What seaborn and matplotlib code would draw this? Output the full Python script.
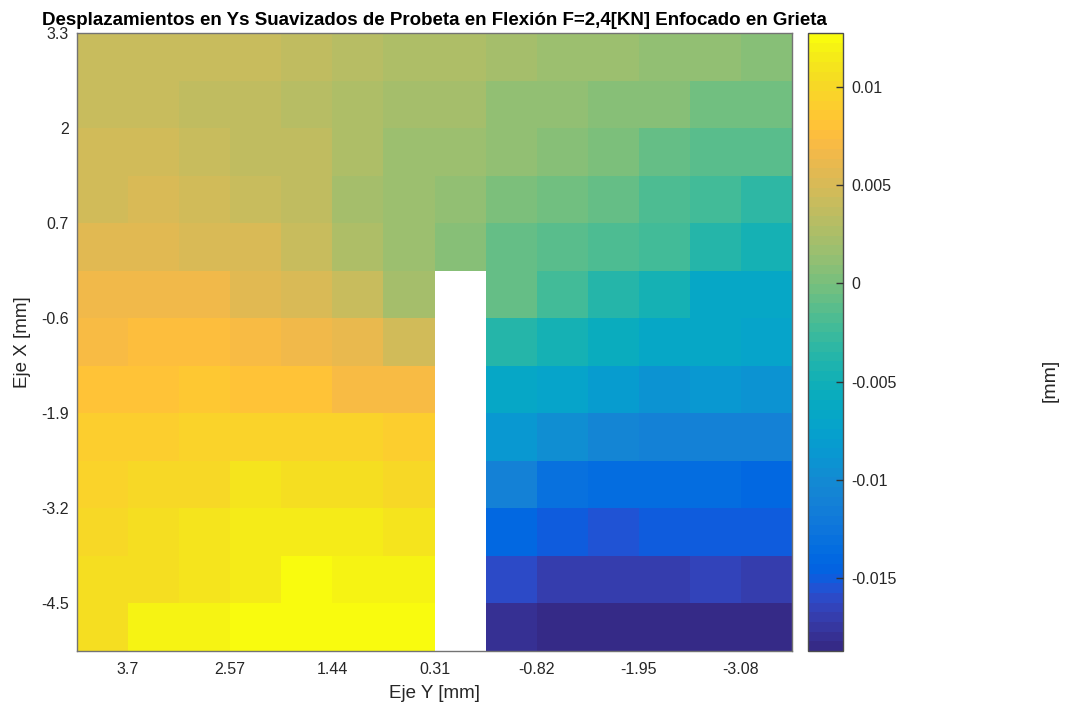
import numpy as np
import pandas as pd
import matplotlib
matplotlib.use('Agg')
import matplotlib.pyplot as plt
from matplotlib.colors import ListedColormap
import seaborn as sns

# tick labels (mm)
eje_y_labels = ['3.7', '2.57', '1.44', '0.31', '-0.82', '-1.95', '-3.08']
eje_x_labels = ['3.3', '2', '0.7', '-0.6', '-1.9', '-3.2', '-4.5']
cbar_ticks = [-0.015, -0.01, -0.005, 0, 0.005, 0.01]
cbar_labels = ['-0.015', '-0.01', '-0.005', '0', '0.005', '0.01']

nan = np.nan
# smoothed Ys displacement [mm], rows top -> bottom, cols left -> right (nan = crack)
desp = [
    [0.00415, 0.00418, 0.00413, 0.00416, 0.00366, 0.00317, 0.00268, 0.00266, 0.00218, 0.00169, 0.00171, 0.00120, 0.00122, 0.00071],
    [0.00412, 0.00418, 0.00368, 0.00362, 0.00315, 0.00270, 0.00221, 0.00225, 0.00122, 0.00118, 0.00073, 0.00069, -0.00029, -0.00025],
    [0.00466, 0.00462, 0.00413, 0.00367, 0.00364, 0.00266, 0.00171, 0.00167, 0.00121, 0.00072, 0.00020, -0.00079, -0.00124, -0.00128],
    [0.00463, 0.00512, 0.00467, 0.00414, 0.00365, 0.00219, 0.00170, 0.00119, 0.00023, -0.00028, -0.00076, -0.00174, -0.00226, -0.00321],
    [0.00561, 0.00565, 0.00515, 0.00511, 0.00417, 0.00269, 0.00168, 0.00070, -0.00078, -0.00125, -0.00176, -0.00223, -0.00373, -0.00469],
    [0.00660, 0.00663, 0.00659, 0.00564, 0.00513, 0.00416, 0.00220, nan, -0.00075, -0.00225, -0.00371, -0.00472, -0.00665, -0.00669],
    [0.00712, 0.00758, 0.00762, 0.00709, 0.00662, 0.00611, 0.00465, nan, -0.00370, -0.00468, -0.00569, -0.00666, -0.00668, -0.00717],
    [0.00808, 0.00811, 0.00857, 0.00810, 0.00806, 0.00711, 0.00708, nan, -0.00664, -0.00715, -0.00813, -0.00912, -0.00866, -0.00914],
    [0.00905, 0.00909, 0.00955, 0.00958, 0.00954, 0.00957, 0.00908, nan, -0.00862, -0.00961, -0.01058, -0.01108, -0.01112, -0.01106],
    [0.00953, 0.01005, 0.01008, 0.01102, 0.01056, 0.01053, 0.01004, nan, -0.01109, -0.01305, -0.01355, -0.01358, -0.01353, -0.01404],
    [0.01007, 0.01054, 0.01103, 0.01152, 0.01155, 0.01151, 0.01105, nan, -0.01402, -0.01502, -0.01553, -0.01505, -0.01501, -0.01504],
    [0.01053, 0.01057, 0.01101, 0.01154, 0.01276, 0.01203, 0.01200, nan, -0.01601, -0.01698, -0.01702, -0.01699, -0.01650, -0.01703],
    [0.01056, 0.01201, 0.01204, 0.01252, 0.01255, 0.01250, 0.01248, nan, -0.01797, -0.01846, -0.01872, -0.01850, -0.01848, -0.01845],
]

# matlab parula (64)
parula_rgb = [
    [0.2081, 0.1663, 0.5292], [0.2116, 0.1898, 0.5777], [0.2123, 0.2138, 0.6270], [0.2081, 0.2386, 0.6771],
    [0.1959, 0.2645, 0.7279], [0.1707, 0.2919, 0.7792], [0.1253, 0.3242, 0.8303], [0.0591, 0.3598, 0.8683],
    [0.0117, 0.3875, 0.8820], [0.0060, 0.4086, 0.8828], [0.0165, 0.4266, 0.8786], [0.0329, 0.4430, 0.8720],
    [0.0498, 0.4586, 0.8641], [0.0629, 0.4737, 0.8554], [0.0723, 0.4887, 0.8467], [0.0779, 0.5040, 0.8384],
    [0.0793, 0.5200, 0.8312], [0.0749, 0.5375, 0.8263], [0.0641, 0.5570, 0.8240], [0.0488, 0.5772, 0.8228],
    [0.0343, 0.5966, 0.8199], [0.0265, 0.6137, 0.8135], [0.0239, 0.6287, 0.8038], [0.0231, 0.6418, 0.7913],
    [0.0228, 0.6535, 0.7768], [0.0267, 0.6642, 0.7607], [0.0384, 0.6743, 0.7436], [0.0590, 0.6838, 0.7254],
    [0.0843, 0.6928, 0.7062], [0.1133, 0.7015, 0.6859], [0.1453, 0.7098, 0.6646], [0.1801, 0.7177, 0.6424],
    [0.2178, 0.7250, 0.6193], [0.2586, 0.7317, 0.5954], [0.3022, 0.7376, 0.5712], [0.3482, 0.7424, 0.5473],
    [0.3953, 0.7459, 0.5244], [0.4420, 0.7481, 0.5033], [0.4871, 0.7491, 0.4840], [0.5300, 0.7491, 0.4661],
    [0.5709, 0.7485, 0.4494], [0.6099, 0.7473, 0.4337], [0.6473, 0.7456, 0.4188], [0.6834, 0.7435, 0.4044],
    [0.7184, 0.7411, 0.3905], [0.7525, 0.7384, 0.3768], [0.7858, 0.7356, 0.3633], [0.8185, 0.7327, 0.3498],
    [0.8507, 0.7299, 0.3360], [0.8824, 0.7274, 0.3217], [0.9139, 0.7258, 0.3063], [0.9450, 0.7261, 0.2886],
    [0.9739, 0.7314, 0.2666], [0.9938, 0.7455, 0.2403], [0.9990, 0.7653, 0.2164], [0.9955, 0.7861, 0.1967],
    [0.9880, 0.8066, 0.1794], [0.9789, 0.8271, 0.1633], [0.9697, 0.8481, 0.1475], [0.9626, 0.8705, 0.1309],
    [0.9589, 0.8949, 0.1132], [0.9598, 0.9218, 0.0948], [0.9661, 0.9514, 0.0755], [0.9763, 0.9831, 0.0538],
]
parula = ListedColormap(parula_rgb, name='parula')

df = pd.DataFrame(desp)

sns.set_style('white')
plt.rcParams['font.family'] = ['Liberation Sans', 'DejaVu Sans']

W, H = 1072, 709
fig = plt.figure(figsize=(W / 100, H / 100), dpi=100)
ax = fig.add_axes([77 / W, 58 / H, 715 / W, 618 / H])
cax = fig.add_axes([808 / W, 58 / H, 35 / W, 618 / H])

sns.heatmap(df, ax=ax, cbar_ax=cax, cmap=parula, xticklabels=False, yticklabels=False)

ax.set_xticks(np.arange(1, 14, 2))
ax.set_xticklabels(eje_y_labels)
ax.set_yticks(np.arange(0, 13, 2))
ax.set_yticklabels(eje_x_labels, rotation=0)
ax.set_axisbelow(True)
ax.tick_params(axis='both', direction='in', length=4, color='0.3', labelsize=11.5,
               labelcolor='0.15')
ax.tick_params(axis='x', pad=8)
ax.tick_params(axis='y', pad=6)
for s in ax.spines.values():
    s.set_visible(True)
    s.set_color('0.45')
    s.set_linewidth(1)

ax.set_xlabel('Eje Y [mm]', fontsize=13.5, color='0.15', va='center')
ax.set_ylabel('Eje X [mm]', fontsize=13.5, color='0.15', va='center')
ax.xaxis.set_label_coords(0.5, (651 - 693) / 618)
ax.yaxis.set_label_coords((23 - 77) / 715, 0.5)

ax.set_title('Desplazamientos en Ys Suavizados de Probeta en Flexión F=2,4[KN] Enfocado en Grieta',
             fontsize=13.5, fontweight='bold', color='black', pad=6)

cbar = ax.collections[0].colorbar
cbar.set_ticks(cbar_ticks)
cbar.set_ticklabels(cbar_labels)
cax.set_axisbelow(False)
cax.tick_params(direction='in', length=5, width=1, color='0.2', labelsize=11.5,
                labelcolor='0.15', pad=6)
cbar.outline.set_edgecolor('0.3')
cbar.outline.set_linewidth(1)

fig.text(1050 / W, 1 - 380 / H, '[mm]', rotation=90, ha='center', va='center',
         fontsize=14, color='0.15')

fig.savefig('out.png', dpi=100)
